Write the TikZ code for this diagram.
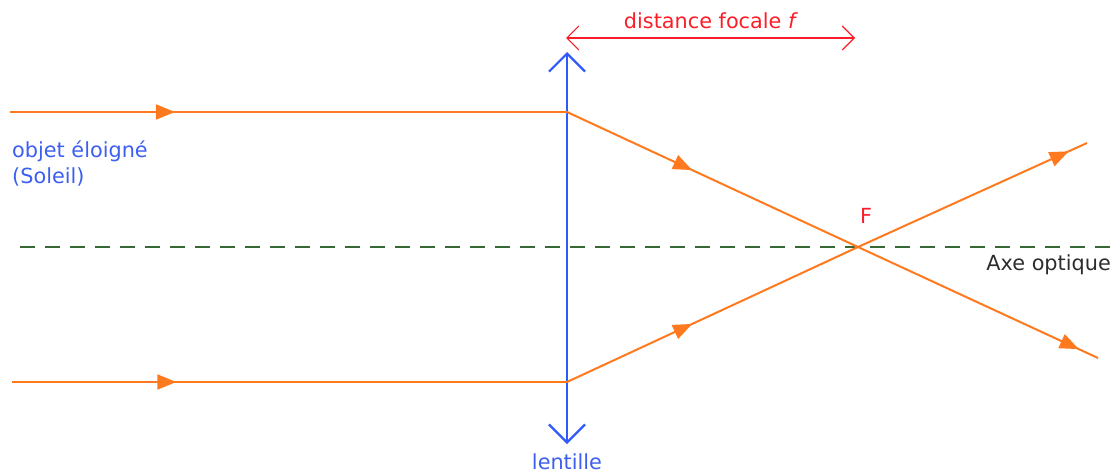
\documentclass[tikz,border=0pt]{standalone}
\usepackage{fontspec}
\setmainfont{DejaVu Sans}
\usetikzlibrary{arrows.meta,decorations.markings}
\definecolor{ray}{RGB}{255,122,30}
\definecolor{lensblue}{RGB}{50,90,250}
\definecolor{txtblue}{RGB}{60,95,240}
\definecolor{axisgreen}{RGB}{55,105,55}
\definecolor{focred}{RGB}{250,30,40}
\definecolor{axtxt}{RGB}{45,45,45}
\tikzset{
  raypath/.style={draw=ray, line width=2pt},
  midarrow/.style={postaction={decorate},decoration={markings,
     mark=at position #1 with {\arrow{Triangle[length=19pt,width=15pt]}}}},
  lensline/.style={draw=lensblue, line width=2.2pt, {Straight Barb[length=18pt,width=36pt]}-{Straight Barb[length=18pt,width=36pt]}},
  focarrow/.style={draw=focred, line width=1.1pt, {Straight Barb[length=12pt,width=24pt]}-{Straight Barb[length=12pt,width=24pt]}},
  axisline/.style={draw=axisgreen, line width=2.6pt, dash pattern=on 15pt off 10pt},
  lbl/.style={inner sep=0pt, font=\fontsize{20.8}{25}\selectfont}
}
\begin{document}
\begin{tikzpicture}[x=1pt,y=-1pt]
\useasboundingbox (0,0) rectangle (1117,472);
% coordinates
\coordinate (A1) at (10,112);
\coordinate (L1) at (567,112);
\coordinate (A2) at (12,382);
\coordinate (L2) at (567,382);
\coordinate (F) at (858,247);
\coordinate (E1) at (1098,358);
\coordinate (E2) at (1087,143);
\coordinate (LT) at (567,52);
\coordinate (LB) at (567,444);
\coordinate (AX1) at (20,247);
\coordinate (AX2) at (1112,247);
\coordinate (D1) at (566,38);
\coordinate (D2) at (855,38);
% optical axis
\draw[axisline] (AX1) -- (AX2);
% lens
\draw[lensline] (LB) -- (LT);
% rays
\draw[raypath, midarrow=0.296] (A1) -- (L1);
\draw[raypath, midarrow=0.296] (A2) -- (L2);
\draw[raypath, midarrow=0.43] (L1) -- (F);
\draw[raypath, midarrow=0.43] (L2) -- (F);
\draw[raypath, midarrow=0.92] (F) -- (E1);
\draw[raypath, midarrow=0.92] (F) -- (E2);
% focal distance
\draw[focarrow] (D1) -- (D2);
% labels
\node[lbl, text=focred, anchor=base] (tf) at (711,28) {distance focale \textit{f}};
\node[lbl, text=focred, anchor=base] (tF) at (866,223) {F};
\node[lbl, text=axtxt, anchor=base east] (tax) at (1111,270) {Axe optique};
\node[lbl, text=txtblue, anchor=base west] (tob) at (12,157) {objet éloigné};
\node[lbl, text=txtblue, anchor=base west] (tso) at (12,183) {(Soleil)};
\node[lbl, text=txtblue, anchor=base] (tle) at (567,469) {lentille};
\end{tikzpicture}
\end{document}
